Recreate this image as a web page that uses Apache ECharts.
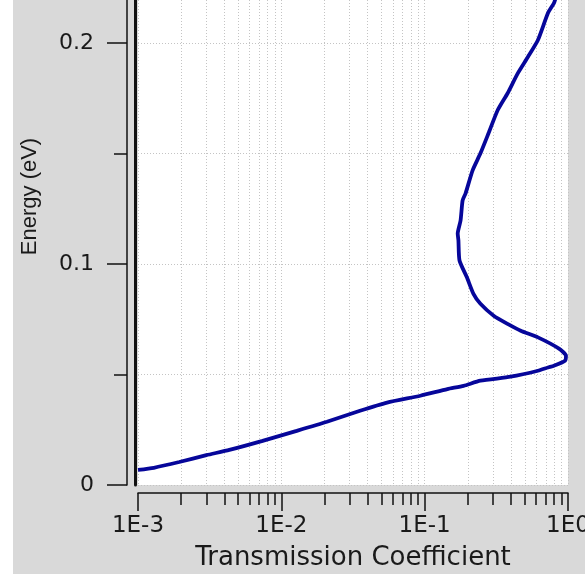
<!DOCTYPE html>
<html>
<head>
<meta charset="utf-8">
<script src="https://cdn.jsdelivr.net/npm/echarts@6/dist/echarts.min.js"></script>
<style>
html, body { margin: 0; padding: 0; background: #fff; }
#main { position: absolute; left: 13px; top: 0; width: 572px; height: 574px; }
</style>
</head>
<body>
<div id="main"></div>
<script>
// transmission coefficient (x, log) vs energy in eV (y)
var transmission = [0.001, 0.00129, 0.00194, 0.0030, 0.00434, 0.0074, 0.0128, 0.0208, 0.0354, 0.0547,
    0.0933, 0.144, 0.187, 0.245, 0.398, 0.617, 0.725, 0.798, 0.953, 0.968,
    0.865, 0.617, 0.468, 0.379, 0.303, 0.245, 0.219, 0.197, 0.175, 0.172,
    0.170, 0.178, 0.184, 0.193, 0.216, 0.245, 0.279, 0.323, 0.379, 0.447,
    0.525, 0.617, 0.725, 0.798, 0.82];
var energy = [0.0068, 0.0078, 0.0104, 0.0135, 0.0159, 0.0200, 0.0245, 0.0286, 0.0336, 0.0373,
    0.0404, 0.0434, 0.0449, 0.0472, 0.0490, 0.0517, 0.0532, 0.0540, 0.0562, 0.0585,
    0.0617, 0.0668, 0.0698, 0.0729, 0.0766, 0.0820, 0.0865, 0.0940, 0.1016, 0.1107,
    0.1138, 0.1197, 0.1288, 0.1320, 0.1424, 0.1501, 0.1592, 0.1696, 0.1773, 0.1864,
    0.1937, 0.2014, 0.2136, 0.2181, 0.2204];

var xTickLabels = ['1E-3', '1E-2', '1E-1', '1E0'];
var yMajorTicks = [0, 0.1, 0.2];
var yTickLabels = ['0', '0.1', '0.2'];
var yMinorTicks = [0.05, 0.15];

// minor x ticks (1..9 in each decade), in log10 units for the helper axis
var xMinorTicks = [];
for (var d = -3; d < 0; d++) {
    for (var k = 1; k <= 9; k++) {
        xMinorTicks.push(d + Math.log10(k));
    }
}
xMinorTicks.push(0);

var curve = [];
for (var i = 0; i < transmission.length; i++) {
    curve.push([transmission[i], energy[i]]);
}

var textColor = '#1a1a1a';
var axisColor = '#111';
var gridLine = { show: true, lineStyle: { color: '#c4c4c4', width: 1, type: [1, 2] } };
var gridBox = { left: 125, right: 17, top: 0, bottom: 89, containLabel: false, outerBoundsMode: 'none' };

var myChart = echarts.init(document.getElementById('main'));
var option = {
    backgroundColor: '#d9d9d9',
    animation: false,
    grid: [
        Object.assign({ show: true, backgroundColor: '#ffffff', borderWidth: 0 }, gridBox),
        Object.assign({ show: false }, gridBox),
        Object.assign({ show: false }, gridBox)
    ],
    xAxis: [
        {
            gridIndex: 0,
            type: 'log',
            min: 0.001,
            max: 1,
            position: 'bottom',
            offset: 8,
            name: 'Transmission Coefficient',
            nameLocation: 'middle',
            nameGap: 52,
            nameTextStyle: { fontFamily: 'DejaVu Sans', fontSize: 26, color: textColor },
            axisLine: { show: true, onZero: false, lineStyle: { color: axisColor, width: 1.5 } },
            axisTick: { show: true, length: 18, lineStyle: { color: axisColor, width: 1.5 } },
            axisLabel: {
                margin: 22,
                fontFamily: 'DejaVu Sans', fontSize: 23, color: textColor,
                formatter: function (v) {
                    var idx = Math.round(Math.log10(v)) + 3;
                    return xTickLabels[idx];
                }
            },
            splitLine: gridLine
        },
        {
            gridIndex: 1,
            type: 'value',
            min: -3,
            max: 0,
            position: 'bottom',
            offset: 8,
            axisLine: { show: false, onZero: false },
            axisTick: { show: true, length: 12, customValues: xMinorTicks, lineStyle: { color: axisColor, width: 1.5 } },
            axisLabel: { show: false },
            splitLine: gridLine
        },
        {
            gridIndex: 2,
            type: 'value',
            min: 0,
            max: 1,
            show: false
        }
    ],
    yAxis: [
        {
            gridIndex: 0,
            type: 'value',
            min: 0,
            max: 0.2195,
            position: 'left',
            offset: 11,
            name: 'Energy (eV)',
            nameLocation: 'middle',
            nameGap: 86,
            nameTextStyle: {
                fontFamily: 'Liberation Sans', fontSize: 22, color: textColor,
                padding: [0, 0, 0, 92]
            },
            axisLine: { show: true, onZero: false, lineStyle: { color: axisColor, width: 1.5 } },
            axisTick: { show: true, length: 20, customValues: yMajorTicks, lineStyle: { color: axisColor, width: 1.5 } },
            axisLabel: {
                margin: 33,
                customValues: yMajorTicks,
                fontFamily: 'DejaVu Sans', fontSize: 22, color: textColor,
                formatter: function (v) {
                    return yTickLabels[yMajorTicks.indexOf(v)];
                }
            },
            splitLine: gridLine
        },
        {
            gridIndex: 1,
            type: 'value',
            min: 0,
            max: 0.2195,
            position: 'left',
            offset: 11,
            axisLine: { show: false, onZero: false },
            axisTick: { show: true, length: 13, customValues: yMinorTicks, lineStyle: { color: axisColor, width: 1.5 } },
            axisLabel: { show: false },
            splitLine: gridLine
        },
        {
            gridIndex: 2,
            type: 'value',
            min: 0,
            max: 0.2195,
            position: 'left',
            offset: 3,
            axisLine: { show: true, onZero: false, lineStyle: { color: axisColor, width: 3 } },
            axisTick: { show: false },
            axisLabel: { show: false },
            splitLine: { show: false }
        }
    ],
    series: [
        {
            name: 'Transmission',
            type: 'line',
            xAxisIndex: 0,
            yAxisIndex: 0,
            data: curve,
            symbol: 'none',
            smooth: 0.2,
            z: 5,
            lineStyle: { color: '#06069a', width: 3.8 }
        }
    ]
};
myChart.setOption(option);
</script>
</body>
</html>
